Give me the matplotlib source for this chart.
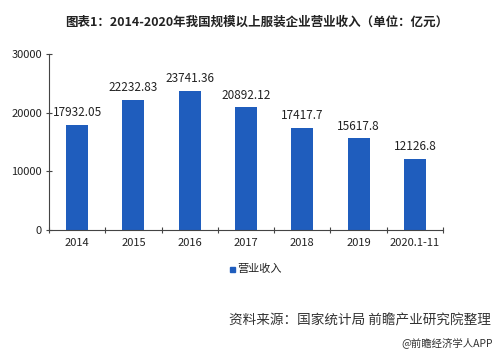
import matplotlib
matplotlib.use("Agg")
import matplotlib.pyplot as plt
from matplotlib.patches import Rectangle

plt.rcParams['font.family'] = ['Noto Sans CJK SC', 'DejaVu Sans']

categories = ["2014", "2015", "2016", "2017", "2018", "2019", "2020.1-11"]
values = [17932.05, 22232.83, 23741.36, 20892.12, 17417.7, 15617.8, 12126.8]
labels = ["17932.05", "22232.83", "23741.36", "20892.12", "17417.7", "15617.8", "12126.8"]
yticks = [0, 10000, 20000, 30000]

color = "#1F5DBD"
W, H = 499, 352
fig = plt.figure(figsize=(W / 100, H / 100), dpi=100)
ax = fig.add_axes([49 / W, 1 - 230 / H, (443 - 49) / W, (230 - 54) / H])

x = list(range(len(categories)))
ax.bar(x, values, width=0.39, color=color, zorder=2)
for xi, v, lab in zip(x, values, labels):
    ax.text(xi, v + 1000, lab, ha="center", va="bottom", fontsize=8.5, color="#222222")

ax.set_xlim(-0.5, len(categories) - 0.5)
ax.set_ylim(0, 30000)
ax.set_yticks(yticks)
ax.set_yticklabels([str(t) for t in yticks], fontsize=8, color="#222222")
ax.set_xticks([i - 0.5 for i in range(len(categories) + 1)])
ax.set_xticklabels([])
ax.set_xticks(x, minor=True)
ax.set_xticklabels(categories, minor=True, fontsize=8, color="#222222")
ax.tick_params(axis="x", which="minor", length=0, pad=6)
ax.tick_params(axis="x", which="major", length=4, direction="inout", color="#444444")
ax.tick_params(axis="y", length=4, direction="inout", color="#444444", pad=3)
for s in ["top", "right"]:
    ax.spines[s].set_visible(False)
ax.spines["left"].set_color("#444444")
ax.spines["bottom"].set_color("#444444")

fig.text(257 / W, 1 - 22 / H, "图表1：2014-2020年我国规模以上服装企业营业收入（单位：亿元）",
         ha="center", va="center", fontsize=9, fontweight="bold", color="#222222")

# legend
fig.patches.append(Rectangle((229.5 / W, 1 - 272 / H), 5 / W, 5 / H, transform=fig.transFigure,
                             color=color))
fig.text(237 / W, 1 - 269 / H, "营业收入", ha="left", va="center", fontsize=8, color="#222222")

fig.text(491 / W, 1 - 320 / H, "资料来源：国家统计局 前瞻产业研究院整理", ha="right", va="center",
         fontsize=9.8, style="italic", color="#333333")
fig.text(493 / W, 1 - 343 / H, "@前瞻经济学人APP", ha="right", va="center",
         fontsize=7.5, color="#333333")

fig.savefig("out.png", dpi=100)
